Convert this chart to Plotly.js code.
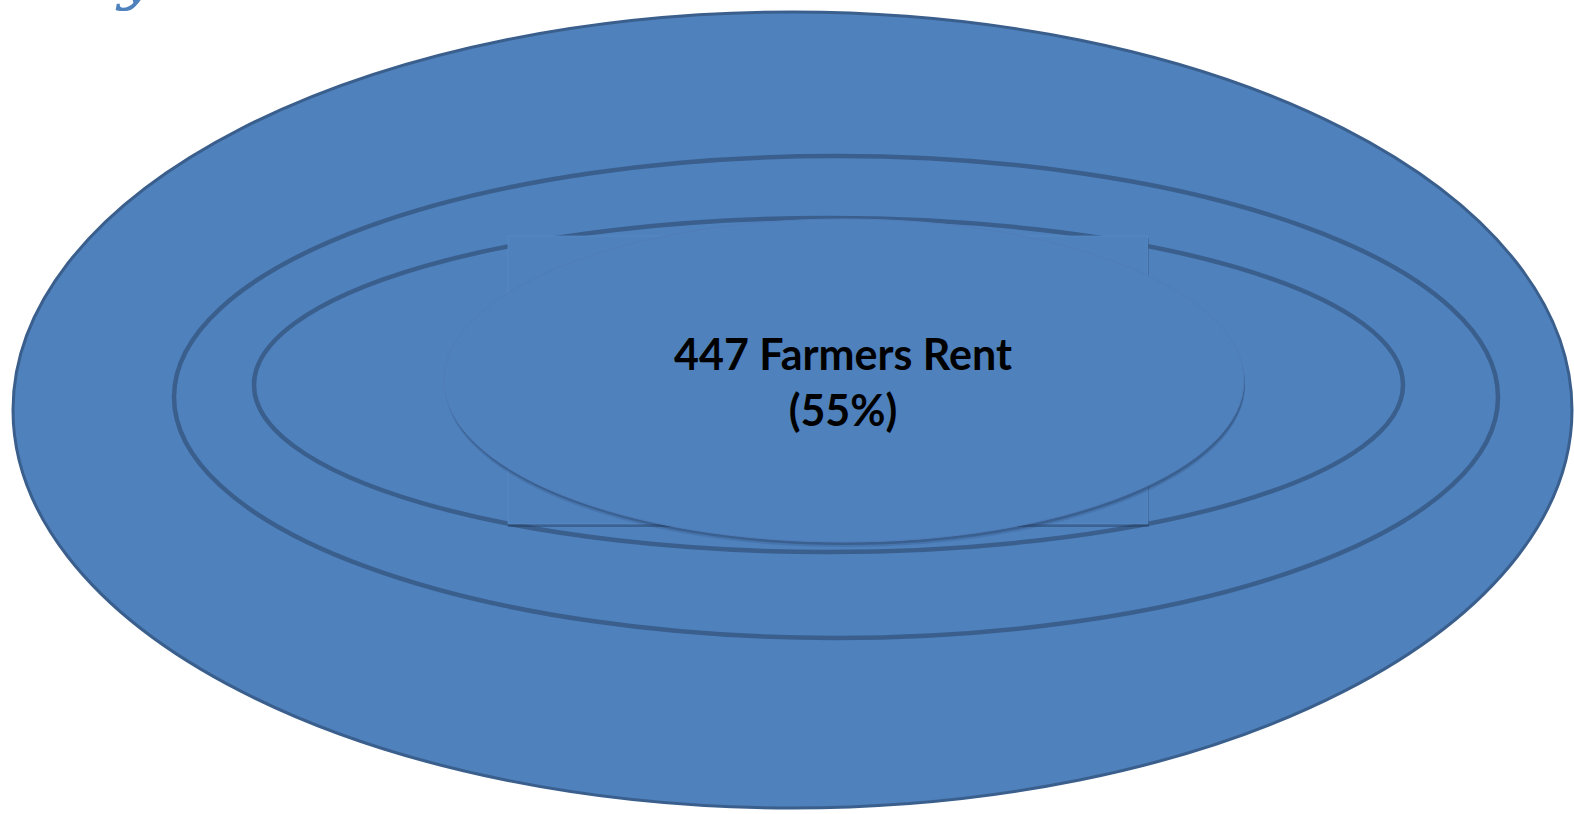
<!DOCTYPE html>
<html>
<head>
<meta charset="utf-8">
<script src="https://cdn.plot.ly/plotly-3.0.1.min.js"></script>
<style>html,body{margin:0;padding:0;background:#fff;overflow:hidden}#chart{width:1574px;height:814px}</style>
</head>
<body>
<div id="chart"></div>
<script>
// Diagram layers (outer to inner), bounds in diagram units
const layerNames = ["All farmers", "Group 2", "Group 3", "Renters"];
const layerX0 = [13, 174, 254, 444];
const layerX1 = [1572, 1498, 1403, 1244];
const layerY0 = [12, 156, 218, 219];
const layerY1 = [808, 638, 552, 542];
// Label box behind the inner ellipse
const boxX = [508, 1148];
const boxY = [236, 524];
// Label values
const rentCount = 447;
const rentShare = 55;
const labelText = rentCount + " Farmers Rent<br>(" + rentShare + "%)";

const fill = "#4f81bd";
const line = "#3a5f8d";
const shapes = [];
for (let i = 0; i < 3; i++) {
  shapes.push({type: "circle", xref: "x", yref: "y",
    x0: layerX0[i], x1: layerX1[i], y0: layerY0[i], y1: layerY1[i],
    fillcolor: fill, line: {color: line, width: i === 0 ? 3 : 4.5}});
}
// box shadow + box
shapes.push({type: "rect", xref: "x", yref: "y", x0: boxX[0], x1: boxX[1] + 1, y0: boxY[0] + 2, y1: boxY[1] + 3,
  fillcolor: "rgba(30,50,80,0.4)", line: {width: 0}});
shapes.push({type: "rect", xref: "x", yref: "y", x0: boxX[0], x1: boxX[1], y0: boxY[0], y1: boxY[1],
  fillcolor: fill, line: {color: "rgba(90,140,200,0.6)", width: 1}});
// inner ellipse shadow + ellipse
const k = 3;
shapes.push({type: "circle", xref: "x", yref: "y", x0: layerX0[k] + 1, x1: layerX1[k] + 1, y0: layerY0[k] + 5, y1: layerY1[k] + 5,
  fillcolor: "rgba(30,50,80,0.15)", line: {width: 0}});
shapes.push({type: "circle", xref: "x", yref: "y", x0: layerX0[k] + 1, x1: layerX1[k] + 1, y0: layerY0[k] + 3, y1: layerY1[k] + 3,
  fillcolor: "rgba(30,50,80,0.3)", line: {width: 0}});
shapes.push({type: "circle", xref: "x", yref: "y", x0: layerX0[k], x1: layerX1[k], y0: layerY0[k], y1: layerY1[k],
  fillcolor: fill, line: {color: "rgba(80,125,185,1)", width: 1}});

const layout = {
  width: 1574, height: 814,
  margin: {l: 0, r: 0, t: 0, b: 0},
  paper_bgcolor: "#ffffff", plot_bgcolor: "#ffffff",
  showlegend: false,
  xaxis: {range: [0, 1574], visible: false, fixedrange: true},
  yaxis: {range: [814, 0], visible: false, fixedrange: true},
  shapes: shapes,
  annotations: [
    {x: 843, y: 381, xref: "x", yref: "y", text: "<b>" + labelText + "</b>", showarrow: false,
     font: {family: "Lato, 'Open Sans', sans-serif", size: 43, color: "#000000"}, align: "center"},
    {x: 0.072, y: 1, xref: "paper", yref: "paper", yanchor: "bottom", yshift: -14, text: "<i>y</i>", showarrow: false, xanchor: "left",
     font: {family: "'DejaVu Serif', 'Liberation Serif', serif", size: 64, color: "#4f81bd"}}
  ]
};
Plotly.newPlot("chart", [], layout, {displayModeBar: false, staticPlot: true});
</script>
</body>
</html>
